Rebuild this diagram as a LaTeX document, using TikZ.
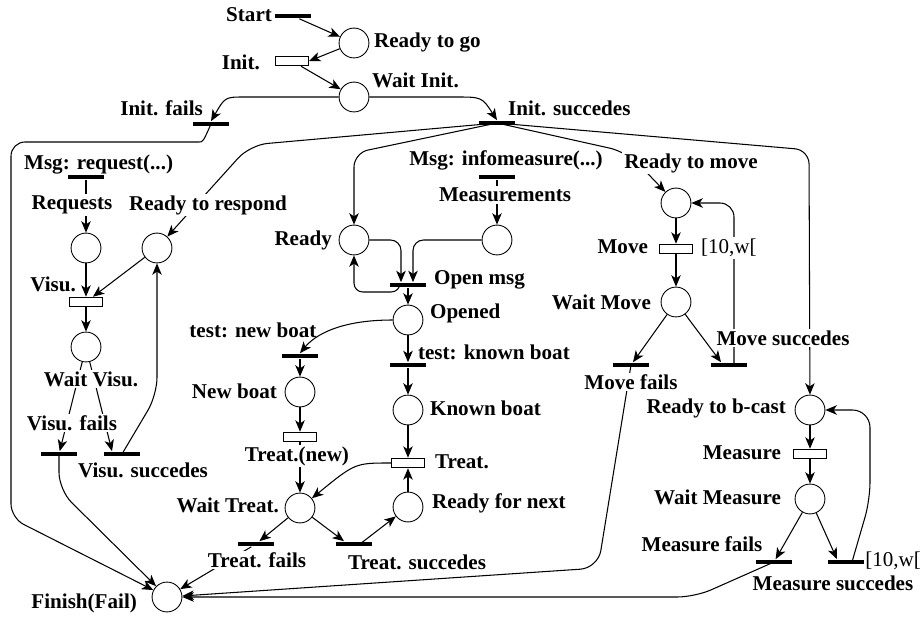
\documentclass[tikz,border=0pt]{standalone}
\usepackage{fontspec}
\setmainfont{Liberation Serif}
\usetikzlibrary{arrows.meta,calc}

\begin{document}
\begin{tikzpicture}[x=0.02cm, y=-0.02cm,
	>={Stealth[length=6.5pt,width=5.4pt,inset=1.8pt]},
	every node/.style={font=\bfseries\fontsize{12}{14}\selectfont},
	place/.style={circle, draw, line width=0.5pt, minimum size=17pt, inner sep=0pt},
	tbar/.style={rectangle, fill=black, minimum width=20pt, minimum height=2.8pt, inner sep=0pt},
	tbox/.style={rectangle, draw, line width=0.5pt, minimum width=19pt, minimum height=5.5pt, inner sep=0pt},
	lbl/.style={inner sep=1pt},
	wlbl/.style={fill=white, inner sep=1pt},
	arc/.style={->, line width=0.6pt},
	]
			\useasboundingbox (0,0) rectangle (920,618);

			\node[place] (rgo) at (354,43) {};
			\node[place] (winit) at (354,97) {};
			\node[place] (req) at (86,248) {};
			\node[place] (rresp) at (157,248) {};
			\node[place] (wvisu) at (86,347) {};
			\node[place] (finish) at (167,597) {};
			\node[place] (ready) at (354,240) {};
			\node[place] (meas) at (497,240) {};
			\node[place] (opened) at (408,320) {};
			\node[place] (newb) at (300,392) {};
			\node[place] (knownb) at (408,410) {};
			\node[place] (wtreat) at (300,508) {};
			\node[place] (rnext) at (408,507) {};
			\node[place] (rmove) at (676,203) {};
			\node[place] (wmove) at (676,302) {};
			\node[place] (rbcast) at (810,410) {};
			\node[place] (wmeas) at (810,499) {};

			\node[tbar] (start) at (293,16) {};
			\node[tbar] (ifail) at (211,124) {};
			\node[tbar] (isucc) at (497,123) {};
			\node[tbar] (mreq) at (86,177) {};
			\node[tbar] (minfo) at (497,177) {};
			\node[tbar] (visuf) at (59,454) {};
			\node[tbar] (visus) at (122,454) {};
			\node[tbar] (openm) at (408,285) {};
			\node[tbar] (tnew) at (300,356) {};
			\node[tbar] (tknown) at (408,365) {};
			\node[tbar] (treatf) at (256,544) {};
			\node[tbar] (treats) at (354,544) {};
			\node[tbar] (movef) at (631,365) {};
			\node[tbar] (moves) at (729,365) {};
			\node[tbar] (measf) at (774,562) {};
			\node[tbar] (meass) at (846,562) {};

			\node[tbox] (init) at (292,61) {};
			\node[tbox] (visu) at (86,302) {};
			\node[tbox] (treatn) at (300,437) {};
			\node[tbox] (treat) at (408,463) {};
			\node[tbox] (move) at (676,249) {};
			\node[tbox] (measure) at (810,454) {};

			\draw[arc] (start) -- (rgo);
			\draw[arc] (rgo) -- (init.east);
			\draw[arc] (init) -- (winit);
			\draw[arc] (winit.west) -- (245,97) .. controls (225,97) .. (ifail.north);
			\draw[arc] (winit.east) -- (455,97) .. controls (482,97) .. (isucc.north);
			\draw[arc, rounded corners=8pt] (ifail.center) .. controls (203,142) .. (185,142) -- (11,142) -- (11,518) -- (finish);
			\draw[arc, rounded corners=10pt] (isucc.center) -- (250,145) -- (rresp);
			\draw[arc, rounded corners=8pt] (isucc.center) -- (354,153) -- (ready);
			\draw[arc, rounded corners=10pt] (isucc.center) -- (627,152) -- (rmove);
			\draw[arc, rounded corners=8pt] (isucc.center) -- (809,150) -- (rbcast);

			\draw[arc] (mreq) -- (req);
			\draw[arc] (minfo) -- (meas);
			\draw[arc] (req) -- (visu);
			\draw[arc] (rresp) -- (visu);
			\draw[arc] (visu) -- (wvisu);
			\draw[arc] (wvisu) -- (visuf);
			\draw[arc] (wvisu) -- ($(visus.north)+(-10,0)$);
			\draw[arc, rounded corners=10pt] (visus.center) -- (157,395) -- (rresp);
			\draw[arc, rounded corners=10pt] (visuf.center) -- (59,490) -- (finish);

			\draw[arc, rounded corners=6pt] (ready.east) -| ($(openm.north)+(-7,0)$);
			\draw[arc, rounded corners=6pt] (meas.west) -| ($(openm.north)+(5,0)$);
			\draw[arc, rounded corners=5pt] ($(openm.center)+(-8,0)$) |- (354,292) -- (ready);
			\draw[arc] (openm) -- (opened);
			\draw[arc] (opened.west) .. controls (340,320) and (315,335) .. (tnew.north);
			\draw[arc] (opened) -- (tknown);
			\draw[arc] (tnew) -- (newb);
			\draw[arc] (tknown) -- (knownb);
			\draw[arc] (newb) -- (treatn);
			\draw[arc] (knownb) -- (treat);
			\draw[arc] (treatn) -- (wtreat);
			\draw[arc] (rnext) -- (treat);
			\draw[arc] (treat.west) .. controls (355,463) .. (wtreat);
			\draw[arc] (wtreat) -- (treatf);
			\draw[arc] (wtreat) -- ($(treats.north)+(-10,0)$);
			\draw[arc] ($(treats.center)+(6,0)$) -- (rnext);
			\draw[arc] (treatf) -- (finish);

			\draw[arc] (rmove) -- (move);
			\draw[arc] (move) -- (wmove);
			\draw[arc] (wmove) -- (movef);
			\draw[arc] (wmove) -- ($(moves.north)+(-8,0)$);
			\draw[arc, rounded corners=8pt] ($(moves.center)+(5,0)$) |- (rmove.east);
			\draw[arc, rounded corners=10pt] (movef.center) -- (598,568) -- (finish);

			\draw[arc] (rbcast) -- (measure);
			\draw[arc] (measure) -- (wmeas);
			\draw[arc] (wmeas) -- (measf);
			\draw[arc] (wmeas) -- ($(meass.north)+(-9,0)$);
			\draw[arc, rounded corners=10pt] ($(meass.center)+(6,0)$) -- (870,500) |- (rbcast.east);
			\draw[arc, rounded corners=10pt] (measf.center) -- (695,597) -- (finish);

			\node[lbl, anchor=east] (lstart) at (274,15) {Start};
			\node[lbl, anchor=east] (linit) at (262,62) {Init.};
			\node[lbl, anchor=west] (lrgo) at (372,43) {Ready to go};
			\node[lbl, anchor=west] (lwinit) at (370,80) {Wait Init.};
			\node[lbl, anchor=east] (lifail) at (205,108) {Init. fails};
			\node[lbl, anchor=west] (lisucc) at (506,108) {Init. succedes};
			\node[lbl, anchor=west] (lmreq) at (22,165) {Msg: request(...)};
			\node[wlbl] (lreq) at (72,205) {Requests};
			\node[wlbl] (lrresp) at (208,205) {Ready to respond};
			\node[lbl, anchor=east] (lvisu) at (78,284) {Visu.};
			\node[wlbl] (lwvisu) at (91,379) {Wait Visu.};
			\node[wlbl] (lvisuf) at (72,423) {Visu. fails};
			\node[lbl, anchor=west] (lvisus) at (76,470) {Visu. succedes};
			\node[lbl, anchor=east] (lfinish) at (139,603) {Finish(Fail)};
			\node[lbl] (lminfo) at (506,160) {Msg: infomeasure(...)};
			\node[wlbl] (lmeas) at (505,195) {Measurements};
			\node[lbl, anchor=east] (lready) at (334,240) {Ready};
			\node[lbl, anchor=west] (lopenm) at (432,280) {Open msg};
			\node[lbl, anchor=west] (lopened) at (428,313) {Opened};
			\node[lbl] (ltnew) at (253,330) {test: new boat};
			\node[lbl, anchor=west] (ltknown) at (416,352) {test: known boat};
			\node[lbl, anchor=east] (lnewb) at (279,391) {New boat};
			\node[lbl, anchor=west] (lknownb) at (428,408) {Known boat};
			\node[wlbl] (ltreatn) at (297,456) {Treat.(new)};
			\node[lbl, anchor=west] (ltreat) at (433,462) {Treat.};
			\node[lbl, anchor=east] (lwtreat) at (281,505) {Wait Treat.};
			\node[lbl, anchor=west] (lrnext) at (430,503) {Ready for next};
			\node[wlbl] (ltreatf) at (257,560) {Treat. fails};
			\node[lbl] (ltreats) at (417,562) {Treat. succedes};
			\node[wlbl] (lrmove) at (691,163) {Ready to move};
			\node[lbl, anchor=east] (lmove) at (650,247) {Move};
			\node[wlbl, anchor=west, font=\fontsize{12}{14}\selectfont] (lmovet) at (699,248) {[10,w[};
			\node[lbl, anchor=east] (lwmove) at (653,302) {Wait Move};
			\node[wlbl] (lmoves) at (783,338) {Move succedes};
			\node[wlbl] (lmovef) at (631,382) {Move fails};
			\node[lbl, anchor=east] (lrbcast) at (788,408) {Ready to b-cast};
			\node[lbl, anchor=east] (lmeasure) at (783,453) {Measure};
			\node[lbl, anchor=east] (lwmeas) at (783,497) {Wait Measure};
			\node[lbl] (lmeasf) at (702,544) {Measure fails};
			\node[anchor=west, inner sep=0pt, font=\fontsize{12}{14}\selectfont] (lmeast) at (865,561) {[10,w[};
			\node[lbl] (lmeass) at (833,583) {Measure succedes};
		\end{tikzpicture}
\end{document}
